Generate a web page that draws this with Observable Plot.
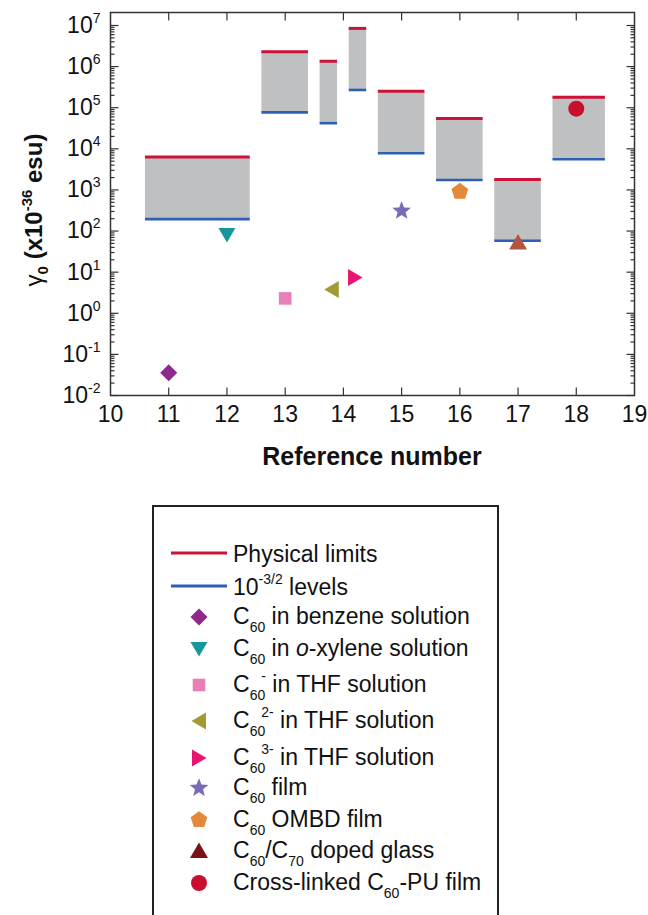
<!DOCTYPE html>
<html><head><meta charset="utf-8">
<script src="https://cdn.jsdelivr.net/npm/d3@7"></script>
<script src="https://cdn.jsdelivr.net/npm/@observablehq/plot@0.6"></script>
<style>
body{margin:0;background:#fff;font-family:"Liberation Sans",Arial,sans-serif;}
#chart{width:648px;}
svg{display:block;}
</style></head><body><div id="chart"></div>
<script>
// ---------- data ----------
const boxX1 = [10.6, 12.6, 13.6, 14.1, 14.6, 15.6, 16.6, 17.6];
const boxX2 = [12.4, 13.4, 13.9, 14.4, 15.4, 16.4, 17.4, 18.5];
const physicalLimits = [6300, 2.3e6, 1.35e6, 8.5e6, 2.5e5, 5.5e4, 1800, 1.8e5];
const levels = [195, 7.7e4, 4.2e4, 2.7e5, 7.8e3, 1740, 58, 5600];

const seriesNames = [
  "C_{60} in benzene solution",
  "C_{60} in *o*-xylene solution",
  "C_{60}^{-} in THF solution",
  "C_{60}^{2-} in THF solution",
  "C_{60}^{3-} in THF solution",
  "C_{60} film",
  "C_{60} OMBD film",
  "C_{60}/C_{70} doped glass",
  "Cross-linked C_{60}-PU film"
];
const pointX = [11, 12, 13, 13.8, 14.2, 15, 16, 17, 18];
const pointY = [0.036, 80, 2.3, 3.8, 7.4, 310, 910, 53, 9.5e4];
const pointColors = ["#8e2a8c", "#17979b", "#e87fb6", "#a29a33", "#e8146f", "#7b6ab8", "#e4883a", "#b4563f", "#c8102e"];
const legendColors = ["#8e2a8c", "#17979b", "#e87fb6", "#a29a33", "#e8146f", "#7b6ab8", "#e4883a", "#7a1219", "#c8102e"];
const pointShapes = ["diamond", "triDown", "square", "triLeft", "triRight", "star", "pentagon", "triUp", "circle"];

const lineNames = ["Physical limits", "10^{-3/2} levels"];
const lineColors = ["#cc1236", "#2d5fb5"];
const boxFill = "#bfc0c2";

const xDomain = [10, 19];
const xTicks = [10, 11, 12, 13, 14, 15, 16, 17, 18, 19];
const yDomain = [0.01, 2.07e7];
const yMajorTicks = [1e-2, 1e-1, 1e0, 1e1, 1e2, 1e3, 1e4, 1e5, 1e6, 1e7];
const xLabel = "Reference number";
const yLabel = "γ_{0} (x10^{-36} esu)";

// ---------- shapes ----------
function poly(pts) {
  return {draw(ctx) { ctx.moveTo(pts[0][0], pts[0][1]); for (let i = 1; i < pts.length; i++) ctx.lineTo(pts[i][0], pts[i][1]); ctx.closePath(); }};
}
function regular(n, R, r) {
  const pts = [];
  const k = r ? 2 * n : n;
  for (let i = 0; i < k; i++) {
    const a = -Math.PI / 2 + i * 2 * Math.PI / k;
    const rad = r && i % 2 ? r : R;
    pts.push([rad * Math.cos(a), rad * Math.sin(a)]);
  }
  return pts;
}
function makeShape(name, s) {
  const sc = pts => pts.map(p => [p[0] * s, p[1] * s]);
  switch (name) {
    case "diamond": return poly(sc([[0, -8.5], [8.5, 0], [0, 8.5], [-8.5, 0]]));
    case "triDown": return poly(sc([[-8.5, -7], [8.5, -7], [0, 7.5]]));
    case "square": return poly(sc([[-6.3, -6.3], [6.3, -6.3], [6.3, 6.3], [-6.3, 6.3]]));
    case "triLeft": return poly(sc([[-7.5, 0], [7, -8.5], [7, 8.5]]));
    case "triRight": return poly(sc([[7.5, 0], [-7, -8.5], [-7, 8.5]]));
    case "star": return poly(sc(regular(5, 9.8, 4.2)));
    case "pentagon": return poly(sc(regular(5, 8.8)));
    case "triUp": return poly(sc([[-9, 7], [9, 7], [0, -8.5]]));
    case "circle": return {draw(ctx) { ctx.moveTo(8 * s, 0); ctx.arc(0, 0, 8 * s, 0, 2 * Math.PI); ctx.closePath(); }};
  }
}
const tickShape = (dx, dy) => ({draw(ctx) { ctx.moveTo(0, 0); ctx.lineTo(dx, dy); }});

// ---------- rich text helper ----------
function richText(textSel, str, opt) {
  const {base, small, sub, sup, supBack} = opt;
  const re = /_\{([^}]*)\}|\^\{([^}]*)\}|\*([^*]*)\*|([^_^*]+)/g;
  let m, shift = 0, prevSub = false;
  while ((m = re.exec(str))) {
    let target = 0, size = base, txt, italic = false, dx = 0;
    if (m[1] !== undefined) { txt = m[1]; target = sub; size = small; }
    else if (m[2] !== undefined) { txt = m[2]; target = sup; size = small; if (prevSub) dx = -supBack; }
    else if (m[3] !== undefined) { txt = m[3]; italic = true; }
    else txt = m[4];
    const t = textSel.append("tspan").attr("font-size", size).text(txt);
    if (target - shift !== 0) t.attr("dy", target - shift);
    if (dx) t.attr("dx", dx);
    if (italic) t.attr("font-style", "italic");
    shift = target;
    prevSub = m[1] !== undefined;
  }
}

// ---------- chart ----------
const boxes = boxX1.map((x1, i) => ({x1, x2: boxX2[i], top: physicalLimits[i], bottom: levels[i]}));
const yMinorTicks = d3.scaleLog().domain([yMajorTicks[0], yMajorTicks[yMajorTicks.length - 1]]).ticks()
  .filter(t => Math.abs(Math.log10(t) - Math.round(Math.log10(t))) > 1e-6);
const xInnerTicks = xTicks.slice(1, -1);
const tickStroke = {fill: "none", stroke: "#333", strokeWidth: 1.2, r: 4};

const pointMarks = pointX.map((x, i) => Plot.dot([{x, y: pointY[i]}], {
  x: "x", y: "y", r: 5, symbol: makeShape(pointShapes[i], 1), fill: pointColors[i], stroke: "none"
}));

const plot = Plot.plot({
  width: 648, height: 475,
  marginLeft: 110, marginRight: 14, marginTop: 12, marginBottom: 80,
  style: {fontFamily: '"Liberation Sans", Arial, sans-serif', color: "#111", background: "white"},
  x: {domain: xDomain},
  y: {type: "log", domain: yDomain},
  marks: [
    Plot.rect(boxes, {x1: "x1", x2: "x2", y1: "bottom", y2: "top", fill: boxFill}),
    Plot.ruleY(boxes, {y: "top", x1: "x1", x2: "x2", stroke: lineColors[0], strokeWidth: 3}),
    Plot.ruleY(boxes, {y: "bottom", x1: "x1", x2: "x2", stroke: lineColors[1], strokeWidth: 2.6}),
    ...pointMarks,
    Plot.frame({stroke: "#333", strokeWidth: 1.5}),
    Plot.dot(yMajorTicks, {y: d => d, frameAnchor: "left", symbol: tickShape(8, 0), ...tickStroke}),
    Plot.dot(yMinorTicks, {y: d => d, frameAnchor: "left", symbol: tickShape(4, 0), ...tickStroke}),
    Plot.dot(yMajorTicks, {y: d => d, frameAnchor: "right", symbol: tickShape(-8, 0), ...tickStroke}),
    Plot.dot(yMinorTicks, {y: d => d, frameAnchor: "right", symbol: tickShape(-4, 0), ...tickStroke}),
    Plot.dot(xInnerTicks, {x: d => d, frameAnchor: "top", symbol: tickShape(0, 8), ...tickStroke}),
    Plot.dot(xInnerTicks, {x: d => d, frameAnchor: "bottom", symbol: tickShape(0, -8), ...tickStroke}),
    Plot.axisX({ticks: xTicks, tickFormat: d => String(d), tickSize: 0, tickPadding: 10, fontSize: 23, label: null}),
    Plot.axisY({ticks: yMajorTicks, tickFormat: d => `10^{${Math.round(Math.log10(d))}}`, tickSize: 0, tickPadding: 10, fontSize: 23, label: null})
  ]
});

// superscripts on y tick labels
d3.select(plot).selectAll('[aria-label="y-axis tick label"] text').each(function () {
  const s = this.textContent;
  this.textContent = "";
  richText(d3.select(this), s, {base: 23, small: 14, sub: 7, sup: -10, supBack: 0});
});

// axis titles
const svg = d3.select(plot);
svg.append("text")
  .attr("x", 372).attr("y", 465)
  .attr("text-anchor", "middle").attr("font-size", 25).attr("font-weight", "bold").attr("fill", "#111")
  .text(xLabel);
const yl = svg.append("text")
  .attr("transform", "translate(42,210) rotate(-90)")
  .attr("text-anchor", "middle").attr("font-size", 24).attr("font-weight", "bold").attr("fill", "#111");
richText(yl, yLabel, {base: 24, small: 15, sub: 6, sup: -10, supBack: 0});
yl.select("tspan").attr("font-weight", "normal");

document.getElementById("chart").appendChild(plot);

// ---------- legend ----------
const legendLabels = lineNames.concat(seriesNames);
const legendBaselines = [87, 120, 149, 181, 217, 253, 290, 320, 352, 383, 415];
const lg = d3.select("#chart").append("svg")
  .attr("width", 648).attr("height", 440)
  .style("font-family", '"Liberation Sans", Arial, sans-serif');
lg.append("rect").attr("x", 153).attr("y", 31).attr("width", 345).attr("height", 480)
  .attr("fill", "none").attr("stroke", "#222").attr("stroke-width", 2);
legendLabels.forEach((lab, i) => {
  const yb = legendBaselines[i];
  if (i < lineNames.length) {
    lg.append("line").attr("x1", 171).attr("x2", 227).attr("y1", yb - 9).attr("y2", yb - 9)
      .attr("stroke", lineColors[i]).attr("stroke-width", 3);
  } else {
    const j = i - lineNames.length;
    lg.append("path")
      .attr("transform", `translate(199,${yb - 7})`)
      .attr("d", d3.symbol(makeShape(pointShapes[j], 1.0), 50)())
      .attr("fill", legendColors[j]);
  }
  const t = lg.append("text").attr("x", 233).attr("y", yb).attr("fill", "#111").attr("font-size", 23);
  richText(t, lab, {base: 23, small: 14, sub: 8, sup: -11, supBack: 4});
});
</script></body></html>
